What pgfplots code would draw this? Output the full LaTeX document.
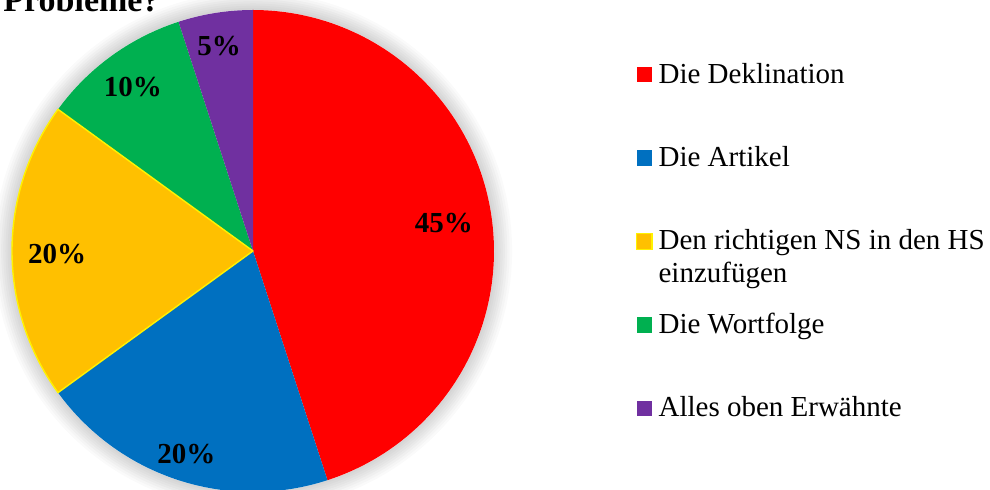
\documentclass[border=0pt]{standalone}
\usepackage{pgfplots}
\pgfplotsset{compat=1.18}
\usepackage{fontspec}
\setmainfont{Liberation Serif}
\definecolor{cred}{HTML}{FF0000}
\definecolor{cblue}{HTML}{0070C0}
\definecolor{cyellow}{HTML}{FFC000}
\definecolor{cgreen}{HTML}{00B050}
\definecolor{cpurple}{HTML}{7030A0}
% slice: [extra style]{cumulative percent before}{percent}{colour}
\newcommand{\slice}[4][]{\fill[#4,#1] (axis cs:0,0) -- plot[domain=90-3.6*#2:90-3.6*(#2+#3), samples=120, variable=\ang] ({cos(\ang)},{sin(\ang)}) -- cycle;}
\begin{document}
\begin{tikzpicture}
\useasboundingbox (0,0) rectangle (495pt,-245pt);
\clip (0,0) rectangle (495pt,-245pt);
\node[anchor=base west, inner sep=0pt, font=\fontsize{17}{20}\selectfont\bfseries] at (1.5pt,-6pt) {Probleme?};
\begin{axis}[
  at={(126.5pt,-125.5pt)}, anchor=origin,
  x=120.5pt, y=120.5pt,
  xmin=-1, xmax=3, ymin=-1, ymax=1,
  hide axis, clip=false,
  legend image code/.code={\path[#1] (0pt,0.3pt) rectangle (7.7pt,8pt);},
  legend style={draw=none, fill=none, inner sep=0pt, outer sep=0pt,
    at={(0.6473,0.890)}, anchor=north west,
    row sep=28.7pt, column sep=3pt,
    nodes={anchor=base west, inner sep=0pt, text height=10pt, text depth=3pt,
      font=\fontsize{14.5}{16.5}\selectfont}},
]
% soft shadow
\fill[black, opacity=0.02] (axis cs:0,0) circle[radius=1.075];
\fill[black, opacity=0.02] (axis cs:0,0) circle[radius=1.065];
\fill[black, opacity=0.025] (axis cs:0,0) circle[radius=1.055];
\fill[black, opacity=0.025] (axis cs:0,0) circle[radius=1.045];
\fill[black, opacity=0.025] (axis cs:0,0) circle[radius=1.036];
\fill[black, opacity=0.025] (axis cs:0,0) circle[radius=1.027];
\fill[black, opacity=0.025] (axis cs:0,0) circle[radius=1.018];
\fill[black, opacity=0.025] (axis cs:0,0) circle[radius=1.009];
\fill[white] (axis cs:0,0) circle[radius=1];
% slices (percent shares: 45, 20, 20, 10, 5)
\slice{0}{45}{cred}
\slice{45}{20}{cblue}
\slice{85}{10}{cgreen}
\slice{95}{5}{cpurple}
\slice[draw=yellow, line width=0.7pt, line join=round]{65}{20}{cyellow}
% labels
\begin{scope}[every node/.style={anchor=base, inner sep=0pt, font=\fontsize{14.5}{17}\selectfont\bfseries}]
\node at (axis cs:0.7925,0.0747) {45\%};
\node at (axis cs:-0.276,-0.880) {20\%};
\node at (axis cs:-0.813,-0.050) {20\%};
\node at (axis cs:-0.498,0.643) {10\%};
\node at (axis cs:-0.141,0.813) {5\%};
\end{scope}
\addlegendimage{fill=cred, draw=none}
\addlegendentry{Die Deklination}
\addlegendimage{fill=cblue, draw=none}
\addlegendentry{Die Artikel}
\addlegendimage{fill=cyellow, draw=yellow, line width=0.6pt}
\addlegendentry{{\begin{tabular}[t]{@{}l@{}}Den richtigen NS in den HS\\einzufügen\end{tabular}}}
\addlegendimage{fill=cgreen, draw=none}
\addlegendentry{Die Wortfolge}
\addlegendimage{fill=cpurple, draw=none}
\addlegendentry{Alles oben Erwähnte}
\end{axis}
\end{tikzpicture}
\end{document}
